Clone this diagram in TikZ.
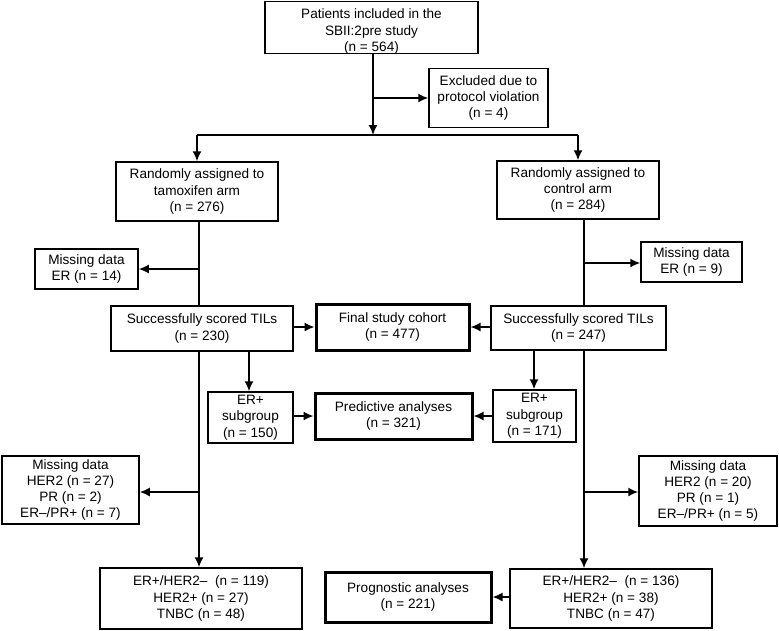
\documentclass[tikz,border=0pt]{standalone}
\usepackage{fontspec}
\setmainfont{Liberation Sans}
\usetikzlibrary{arrows.meta}
\tikzset{
  box/.style={draw, rectangle, line width=1.5pt, inner sep=0pt, align=center,
    font=\fontsize{13.6}{16.3}\selectfont},
  thickbox/.style={box, line width=3pt},
  txt/.style={inner sep=0pt, align=center, font=\fontsize{13.6}{16.3}\selectfont},
  conn/.style={line width=1.6pt},
  arr/.style={conn, -{Latex[length=10pt,width=9pt]}}
}
\begin{document}
\begin{tikzpicture}[x=1pt,y=-1pt]
\useasboundingbox (0,0) rectangle (779,630);

% boxes
\node[box, minimum width=213pt, minimum height=52pt] (top) at (371.5,27.5) {};
\node[txt] (toptext) at (371.5,31.5) {Patients included in the\\SBII:2pre study\\(n = 564)};
\node[box, minimum width=119pt, minimum height=59pt] (excl) at (488.5,98) {Excluded due to\\protocol violation\\(n = 4)};
\node[box, minimum width=162pt, minimum height=59pt] (tam) at (197,191.5) {Randomly assigned to\\tamoxifen arm\\(n = 276)};
\node[box, minimum width=162pt, minimum height=58pt] (ctrl) at (578,190) {Randomly assigned to\\control arm\\(n = 284)};
\node[box, minimum width=103pt, minimum height=40pt] (missL) at (86.5,269) {Missing data\\ER (n = 14)};
\node[box, minimum width=101pt, minimum height=40pt] (missR) at (691.5,262) {Missing data\\ER (n = 9)};
\node[box, minimum width=182pt, minimum height=45pt] (succL) at (202,328.5) {Successfully scored TILs\\(n = 230)};
\node[thickbox, minimum width=153pt, minimum height=46pt] (final) at (392.5,327) {Final study cohort\\(n = 477)};
\node[box, minimum width=175pt, minimum height=44pt] (succR) at (578.5,328) {Successfully scored TILs\\(n = 247)};
\node[box, minimum width=85pt, minimum height=51pt] (erL) at (250.5,417.5) {ER+\\subgroup\\(n = 150)};
\node[thickbox, minimum width=157pt, minimum height=46pt] (pred) at (393.5,416) {Predictive analyses\\(n = 321)};
\node[box, minimum width=83pt, minimum height=52pt] (erR) at (534.5,416) {ER+\\subgroup\\(n = 171)};
\node[box, minimum width=137pt, minimum height=68pt] (mdL) at (70.5,490) {Missing data\\HER2 (n = 27)\\PR (n = 2)\\ER–/PR+ (n = 7)};
\node[box, minimum width=138pt, minimum height=70pt] (mdR) at (708,491) {Missing data\\HER2 (n = 20)\\PR (n = 1)\\ER–/PR+ (n = 5)};
\node[box, minimum width=202pt, minimum height=61pt] (botL) at (201,598.5) {ER+/HER2–\ \ (n = 119)\\HER2+ (n = 27)\\TNBC (n = 48)};
\node[thickbox, minimum width=166pt, minimum height=50pt] (prog) at (408,597) {Prognostic analyses\\(n = 221)};
\node[box, minimum width=202pt, minimum height=59pt] (botR) at (611,598.5) {ER+/HER2–\ \ (n = 136)\\HER2+ (n = 38)\\TNBC (n = 47)};

% helper coordinates
\coordinate (cx) at (373,0);
\coordinate (split) at (373,135);
\coordinate (lx) at (199,0);
\coordinate (rx) at (584,0);
\coordinate (erlx) at (249,0);
\coordinate (errx) at (534,0);
\coordinate (bexcl) at (373,98);
\coordinate (bmissL) at (199,269);
\coordinate (bmissR) at (584,263);
\coordinate (bmdL) at (199,492);
\coordinate (bmdR) at (584,492);

% top
\draw[arr] (top.south -| cx) -- (split);
\draw[arr] (bexcl) -- (bexcl -| excl.west);
\draw[conn] (split -| tam.north) -- (split -| ctrl.north);
\draw[arr] (split -| tam.north) -- (tam.north);
\draw[arr] (split -| ctrl.north) -- (ctrl.north);

% trunks to scored TILs
\draw[conn] (tam.south -| lx) -- (succL.north -| lx);
\draw[conn] (ctrl.south -| rx) -- (succR.north -| rx);
\draw[arr] (bmissL) -- (bmissL -| missL.east);
\draw[arr] (bmissR) -- (bmissR -| missR.west);

% final cohort
\draw[arr] (succL.east |- final.west) -- (final.west);
\draw[arr] (succR.west |- final.east) -- (final.east);

% ER+ subgroups
\draw[arr] (succL.south -| erlx) -- (erL.north -| erlx);
\draw[arr] (succR.south -| errx) -- (erR.north -| errx);
\draw[arr] (erL.east |- pred.west) -- (pred.west);
\draw[arr] (erR.west |- pred.east) -- (pred.east);

% trunks to subtypes
\draw[arr] (succL.south -| lx) -- (botL.north -| lx);
\draw[arr] (succR.south -| rx) -- (botR.north -| rx);
\draw[arr] (bmdL) -- (bmdL -| mdL.east);
\draw[arr] (bmdR) -- (bmdR -| mdR.west);

% prognostic
\draw[arr] (botR.west |- prog.east) -- (prog.east);
\end{tikzpicture}
\end{document}
